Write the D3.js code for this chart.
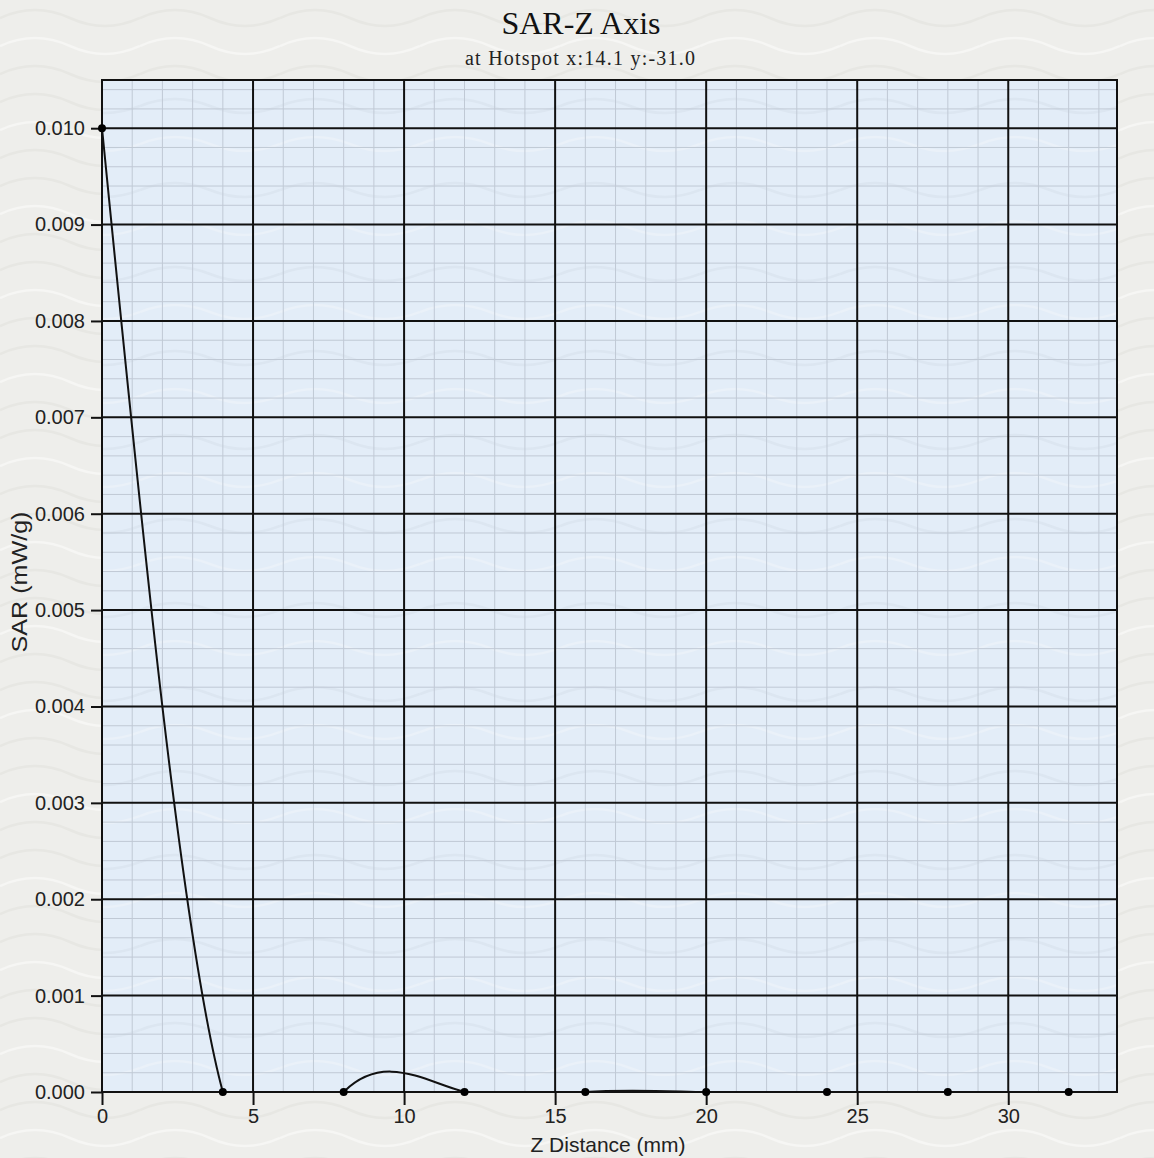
<!DOCTYPE html>
<html>
<head>
<meta charset="utf-8">
<script src="https://cdn.jsdelivr.net/npm/d3@7"></script>
<style>
  html, body { margin: 0; padding: 0; background: #efefec; }
  svg { display: block; }
  .tick text { font-family: "Liberation Sans", Arial, sans-serif; }
</style>
</head>
<body>
<svg id="chart" width="1154" height="1158"></svg>
<script>
// SAR measured along the Z axis at the hotspot
const zDistance = [0, 4, 8, 12, 16, 20, 24, 28, 32];                 // mm
const sarValues = [0.010, 0, 0, 0, 0, 0, 0, 0, 0];                   // mW/g
const xTickValues = [0, 5, 10, 15, 20, 25, 30];
const yTickValues = [0, 0.001, 0.002, 0.003, 0.004, 0.005, 0.006, 0.007, 0.008, 0.009, 0.010];
const titleText = "SAR-Z Axis";
const subtitleText = "at Hotspot x:14.1 y:-31.0";
const xLabel = "Z Distance (mm)";
const yLabel = "SAR (mW/g)";

const W = 1154, H = 1158;
const margin = { left: 102, top: 80, right: 1154 - 1117, bottom: 1158 - 1092 };
const svg = d3.select("#chart");
const defs = svg.append("defs");

// paper-like backdrop with faint wavy texture
const pagePat = defs.append("pattern").attr("id", "paper")
  .attr("patternUnits", "userSpaceOnUse").attr("width", 140).attr("height", 84);
pagePat.append("rect").attr("width", 140).attr("height", 84).attr("fill", "#eeeeeb");
[18, 46, 74].forEach((yy, i) => {
  pagePat.append("path")
    .attr("d", `M0 ${yy} Q35 ${yy - 16} 70 ${yy} T140 ${yy}`)
    .attr("fill", "none").attr("stroke", i === 1 ? "#f6f6f4" : "#e7e7e3").attr("stroke-width", 2.5);
});
svg.append("rect").attr("width", W).attr("height", H).attr("fill", "url(#paper)");

const plotPat = defs.append("pattern").attr("id", "plotbg")
  .attr("patternUnits", "userSpaceOnUse").attr("width", 140).attr("height", 84);
plotPat.append("rect").attr("width", 140).attr("height", 84).attr("fill", "#e3edf8");
[22, 60].forEach((yy, i) => {
  plotPat.append("path")
    .attr("d", `M0 ${yy} Q35 ${yy - 14} 70 ${yy} T140 ${yy}`)
    .attr("fill", "none").attr("stroke", i ? "#eaf1f9" : "#dce6f1").attr("stroke-width", 2.5);
});

const x = d3.scaleLinear().domain([0, 33.6]).range([margin.left, W - margin.right]);
const y = d3.scaleLinear().domain([0, 0.0105]).range([H - margin.bottom, margin.top]);

const x0 = x.range()[0], x1 = x.range()[1];
const y0 = y.range()[0], y1 = y.range()[1];

defs.append("clipPath").attr("id", "plotClip")
  .append("rect").attr("x", x0).attr("y", y1).attr("width", x1 - x0).attr("height", y0 - y1);

// plot area
svg.append("rect").attr("x", x0).attr("y", y1).attr("width", x1 - x0).attr("height", y0 - y1)
  .attr("fill", "url(#plotbg)");

// minor grid: 1 mm and 0.0002 mW/g
const xMinor = d3.range(1, 34).filter(v => v % 5 !== 0);
const yMinor = d3.range(1, 53).map(i => i * 0.0002).filter(v => Math.abs(v / 0.001 - Math.round(v / 0.001)) > 1e-6);
const grid = svg.append("g");
grid.selectAll(".xm").data(xMinor).join("line")
  .attr("x1", d => x(d)).attr("x2", d => x(d)).attr("y1", y1).attr("y2", y0)
  .attr("stroke", "#c0c9d5").attr("stroke-width", 1);
grid.selectAll(".ym").data(yMinor).join("line")
  .attr("x1", x0).attr("x2", x1).attr("y1", d => y(d)).attr("y2", d => y(d))
  .attr("stroke", "#c0c9d5").attr("stroke-width", 1);

// major grid
grid.selectAll(".xM").data(xTickValues.slice(1)).join("line")
  .attr("x1", d => x(d)).attr("x2", d => x(d)).attr("y1", y1).attr("y2", y0)
  .attr("stroke", "#111").attr("stroke-width", 2);
grid.selectAll(".yM").data(yTickValues.slice(1)).join("line")
  .attr("x1", x0).attr("x2", x1).attr("y1", d => y(d)).attr("y2", d => y(d))
  .attr("stroke", "#111").attr("stroke-width", 2);

// frame
svg.append("rect").attr("x", x0).attr("y", y1).attr("width", x1 - x0).attr("height", y0 - y1)
  .attr("fill", "none").attr("stroke", "#111").attr("stroke-width", 2);

// axes
const xAxis = svg.append("g").attr("transform", `translate(0,${y0})`)
  .call(d3.axisBottom(x).tickValues(xTickValues).tickFormat(d3.format("d")).tickSize(13).tickPadding(4));
const yAxis = svg.append("g").attr("transform", `translate(${x0},0)`)
  .call(d3.axisLeft(y).tickValues(yTickValues).tickFormat(d3.format(".3f")).tickSize(11).tickPadding(6));
[xAxis, yAxis].forEach(g => {
  g.select(".domain").remove();
  g.selectAll(".tick line").attr("stroke", "#111").attr("stroke-width", 2);
  g.selectAll(".tick text").attr("fill", "#222").attr("font-size", 20);
});

// SAR curve (natural cubic spline through the samples)
const line = d3.line().x((d, i) => x(zDistance[i])).y(d => y(d)).curve(d3.curveNatural);
svg.append("path").datum(sarValues)
  .attr("clip-path", "url(#plotClip)")
  .attr("d", line).attr("fill", "none").attr("stroke", "#111").attr("stroke-width", 2);

svg.append("g").selectAll("circle").data(sarValues).join("circle")
  .attr("cx", (d, i) => x(zDistance[i])).attr("cy", d => y(d)).attr("r", 4).attr("fill", "#000");

// titles
svg.append("text").attr("x", 581).attr("y", 34).attr("text-anchor", "middle")
  .attr("font-family", "'Liberation Serif', 'Times New Roman', serif").attr("font-size", 32)
  .attr("fill", "#111").text(titleText);
svg.append("text").attr("x", 580).attr("y", 65).attr("text-anchor", "middle")
  .attr("font-family", "'Liberation Serif', 'Times New Roman', serif").attr("font-size", 20)
  .attr("textLength", 230).attr("lengthAdjust", "spacing")
  .attr("fill", "#222").text(subtitleText);

svg.append("text").attr("x", 608).attr("y", 1152).attr("text-anchor", "middle")
  .attr("font-family", "'Liberation Sans', Arial, sans-serif").attr("font-size", 21)
  .attr("fill", "#222").text(xLabel);
svg.append("text").attr("transform", `translate(27,582) rotate(-90)`)
  .attr("text-anchor", "middle")
  .attr("font-family", "'Liberation Sans', Arial, sans-serif").attr("font-size", 22)
  .attr("textLength", 141).attr("lengthAdjust", "spacingAndGlyphs")
  .attr("fill", "#222").text(yLabel);
</script>
</body>
</html>
